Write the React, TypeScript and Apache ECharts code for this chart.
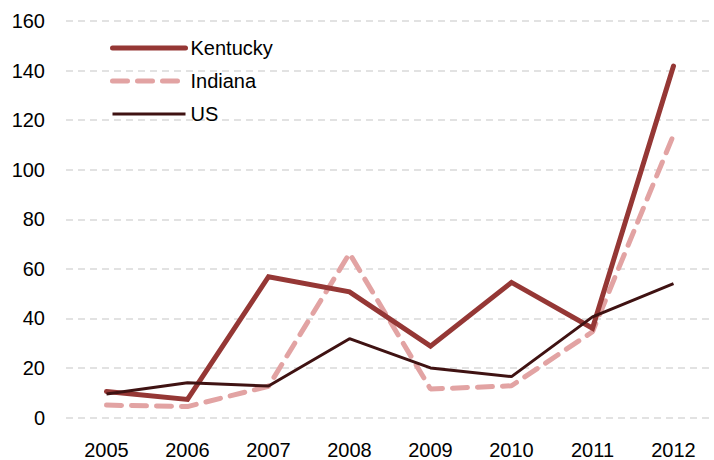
import React, { useEffect, useRef } from "react";
import * as echarts from "echarts";

const years = ["2005", "2006", "2007", "2008", "2009", "2010", "2011", "2012"];
const kentucky = [10.5, 7.3, 56.8, 50.7, 28.8, 54.5, 36, 141.8];
const indiana = [5, 4.4, 12.6, 66.2, 11.5, 12.8, 34.6, 114];
const us = [9.5, 14, 12.7, 31.8, 20, 16.5, 40.6, 54];

export default function App() {
  const ref = useRef<HTMLDivElement>(null);
  useEffect(() => {
    if (!ref.current) return;
    const chart = echarts.init(ref.current, null, { renderer: "svg" });
    const font = "'Liberation Sans', Arial, sans-serif";
    const kColor = "#953735";
    const iColor = "#E2A3A3";
    const uColor = "#3F1212";
    chart.setOption({
      animation: false,
      textStyle: { fontFamily: font },
      grid: { left: 66, right: -5, top: 21, bottom: 42.5 },
      legend: {
        orient: "vertical",
        left: 105,
        top: 33,
        itemWidth: 73,
        itemHeight: 20,
        itemGap: 13,
        itemStyle: { opacity: 0 },
        textStyle: { fontSize: 20, color: "#000", fontFamily: font },
        data: [
          { name: "Kentucky", lineStyle: { width: 5, color: kColor, cap: "round" } },
          { name: "Indiana", lineStyle: { width: 5, color: iColor, type: [15, 10], cap: "round" } },
          { name: "US", lineStyle: { width: 3, color: uColor } },
        ],
      },
      xAxis: {
        type: "category",
        data: years,
        boundaryGap: true,
        axisLine: { show: false },
        axisTick: { show: false },
        axisLabel: { fontSize: 20, color: "#000", margin: 22, fontFamily: font },
      },
      yAxis: {
        type: "value",
        min: 0,
        max: 160,
        interval: 20,
        axisLine: { show: false },
        axisTick: { show: false },
        axisLabel: { fontSize: 20, color: "#000", margin: 21, fontFamily: font },
        splitLine: { lineStyle: { color: "#d9d9d9", width: 1.5, type: [7, 5] } },
      },
      series: [
        {
          name: "Kentucky",
          type: "line",
          data: kentucky,
          symbol: "none",
          lineStyle: { color: kColor, width: 5, cap: "round", join: "miter" },
          itemStyle: { color: kColor },
          z: 3,
        },
        {
          name: "Indiana",
          type: "line",
          data: indiana,
          symbol: "none",
          lineStyle: { color: iColor, width: 5, type: [15, 10], cap: "round" },
          itemStyle: { color: iColor },
          z: 2,
        },
        {
          name: "US",
          type: "line",
          data: us,
          symbol: "none",
          lineStyle: { color: uColor, width: 3 },
          itemStyle: { color: uColor },
          z: 4,
        },
      ],
    });
    return () => chart.dispose();
  }, []);
  return (
    <div
      ref={ref}
      style={{ position: "absolute", left: 0, top: 0, width: 714, height: 460, background: "#fff" }}
    />
  );
}
